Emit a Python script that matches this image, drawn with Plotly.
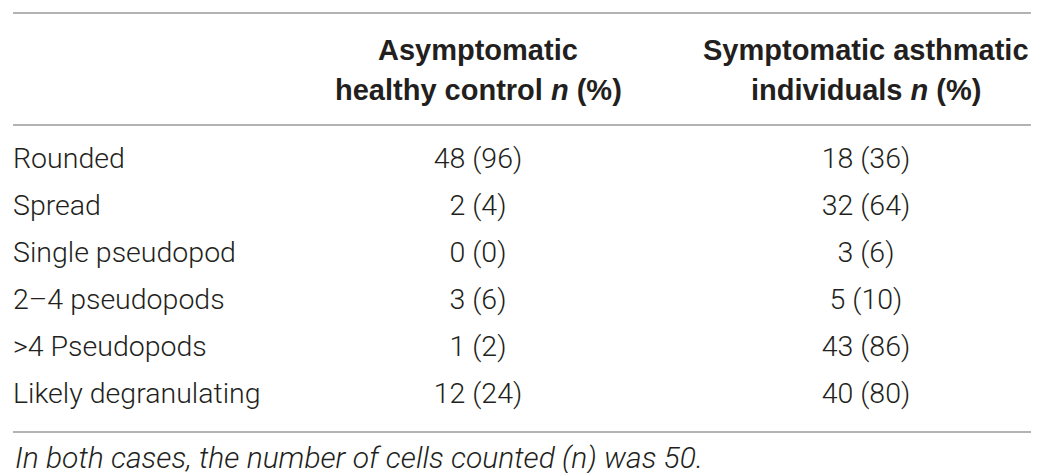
import plotly.graph_objects as go

# table content
row_labels = ['Rounded', 'Spread', 'Single pseudopod', '2–4 pseudopods',
              '>4 Pseudopods', 'Likely degranulating']
control_n = [48, 2, 0, 3, 1, 12]
control_pct = [96, 4, 0, 6, 2, 24]
asthma_n = [18, 32, 3, 5, 43, 40]
asthma_pct = [36, 64, 6, 10, 86, 80]
header_control = ['Asymptomatic', 'healthy control <i>n</i> (%)']
header_asthma = ['Symptomatic asthmatic', 'individuals <i>n</i> (%)']
footnote = 'In both cases, the number of cells counted (n) was 50.'

W, H = 1039, 473
BODY_FONT = 'Roboto, Liberation Sans, sans-serif'
HEAD_FONT = 'Liberation Sans, Arial, sans-serif'
INK = '#231f20'
RULE = '#9a9a9a'

# layout: y in "row units", one unit per body row
ROW_PX, FIRST_ROW_PX = 47, 153
y_top = (0 - FIRST_ROW_PX) / ROW_PX
y_bot = (H - FIRST_ROW_PX) / ROW_PX
def to_row(px):
    return (px - FIRST_ROW_PX) / ROW_PX

label_x, control_x, asthma_x = 5, 470, 858
header_y = [to_row(42), to_row(82)]
rule_y = [to_row(5), to_row(117), to_row(424)]
foot_y = to_row(449)

rows = list(range(len(row_labels)))
fmt = lambda n, p: f'{n} ({p})'
body = dict(family=BODY_FONT, size=28.5, color=INK, weight=300)

fig = go.Figure()
fig.add_trace(go.Scatter(
    x=[label_x] * len(rows), y=rows, mode='text', text=row_labels,
    textposition='middle right', hoverinfo='skip', textfont=body))
fig.add_trace(go.Scatter(
    x=[control_x] * len(rows), y=rows, mode='text',
    text=[fmt(n, p) for n, p in zip(control_n, control_pct)],
    textposition='middle center', hoverinfo='skip', textfont=body))
fig.add_trace(go.Scatter(
    x=[asthma_x] * len(rows), y=rows, mode='text',
    text=[fmt(n, p) for n, p in zip(asthma_n, asthma_pct)],
    textposition='middle center', hoverinfo='skip', textfont=body))

for cx, lines in [(control_x, header_control), (asthma_x, header_asthma)]:
    for hy, txt in zip(header_y, lines):
        fig.add_annotation(x=cx, y=hy, text='<b>' + txt + '</b>', showarrow=False,
                           xanchor='center', yanchor='middle',
                           font=dict(family=HEAD_FONT, size=29, color=INK))

fig.add_annotation(x=label_x, y=foot_y, text='<i>' + footnote + '</i>', showarrow=False,
                   xanchor='left', yanchor='middle',
                   font=dict(family=BODY_FONT, size=30, color=INK, weight=300))

for ry in rule_y:
    fig.add_shape(type='line', x0=5, x1=1034, y0=ry, y1=ry, xref='x', yref='y',
                  line=dict(color=RULE, width=1.5))

fig.update_layout(
    width=W, height=H, margin=dict(l=0, r=0, t=0, b=0),
    plot_bgcolor='white', paper_bgcolor='white', showlegend=False,
    xaxis=dict(range=[0, W], visible=False, fixedrange=True),
    yaxis=dict(range=[y_bot, y_top], visible=False, fixedrange=True),
)
fig.write_html('out.html', config={'displayModeBar': False})
